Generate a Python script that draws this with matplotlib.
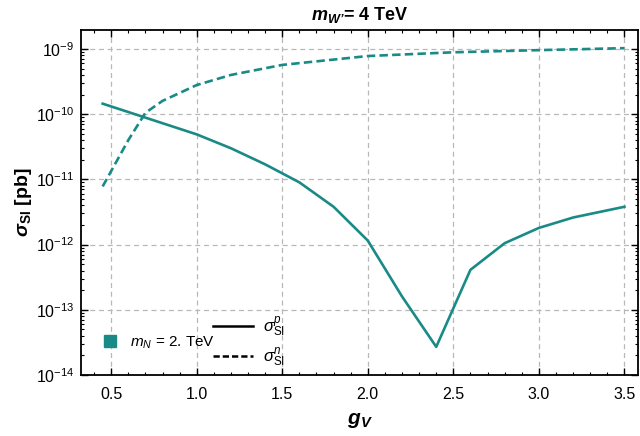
import matplotlib
matplotlib.use("Agg")
import matplotlib.pyplot as plt
from matplotlib.lines import Line2D
from matplotlib.ticker import MultipleLocator, NullFormatter, LogFormatterSciNotation

plt.rcParams['font.family'] = ['Liberation Sans', 'DejaVu Sans']
plt.rcParams['mathtext.fontset'] = 'custom'
plt.rcParams['mathtext.rm'] = 'Liberation Sans'
plt.rcParams['mathtext.it'] = 'Liberation Sans:italic'
plt.rcParams['mathtext.bf'] = 'Liberation Sans:bold'
plt.rcParams['mathtext.bfit'] = 'Liberation Sans:bold:italic'

# proton (solid)
gv_p = [0.45, 1.0, 1.2, 1.4, 1.6, 1.8, 2.0, 2.2, 2.4, 2.6, 2.8, 3.0, 3.2, 3.5]
sig_p = [1.45e-10, 4.9e-11, 3.0e-11, 1.7e-11, 9.0e-12, 3.8e-12, 1.15e-12,
         1.6e-13, 2.7e-14, 4.1e-13, 1.05e-12, 1.8e-12, 2.6e-12, 3.8e-12]
# neutron (dashed)
gv_n = [0.45, 0.6, 0.7, 0.8, 1.0, 1.2, 1.5, 2.0, 2.5, 3.0, 3.5]
sig_n = [7.8e-12, 4.0e-11, 1.05e-10, 1.6e-10, 2.8e-10, 4.0e-10, 5.7e-10,
         7.8e-10, 8.9e-10, 9.6e-10, 1.03e-9]

y_exponents = [-14, -13, -12, -11, -10, -9]
x_ticks = [0.5, 1.0, 1.5, 2.0, 2.5, 3.0, 3.5]

teal = '#1a8a86'

fig = plt.figure(figsize=(6.4, 4.36), dpi=100)
ax = fig.add_axes([0.127, 0.14, 0.870, 0.791])

ax.plot(gv_p, sig_p, color=teal, lw=1.9, ls='-')
ax.plot(gv_n, sig_n, color=teal, lw=1.9, ls=(0, (3.2, 1.6)))

ax.set_yscale('log')
ymin, ymax = 1e-14, 10**-8.71
ax.set_xlim(0.325, 3.58)
ax.set_ylim(ymin, ymax)

ax.set_xticks(x_ticks)
ax.set_xticklabels([f"{v:.1f}" for v in x_ticks])
ax.xaxis.set_minor_locator(MultipleLocator(0.1))

major_y = [10.0 ** e for e in y_exponents]
minor_y = [m * 10.0 ** e for e in y_exponents for m in range(2, 10)
           if m * 10.0 ** e < ymax]
ax.set_yticks(major_y)
ax.set_yticklabels([f"$10^{{{e}}}$" for e in y_exponents])
ax.set_yticks(minor_y, minor=True)
ax.yaxis.set_minor_formatter(NullFormatter())

ax.tick_params(which='both', direction='in', top=True, right=True, labelsize=11.5)
ax.tick_params(axis='x', which='major', pad=9)
ax.tick_params(axis='y', which='major', pad=5)
ax.tick_params(which='major', length=5, width=1)
ax.tick_params(which='minor', length=2.5, width=0.8)

for s in ax.spines.values():
    s.set_linewidth(1.3)

ax.grid(True, which='major', color='#b8b8b8', ls=(0, (4, 3)), lw=0.9)

ax.set_title("$\\mathbfit{m}_{\\mathbfit{W\u2019}}$= 4 TeV", fontsize=13,
             fontweight='bold', pad=7)
ax.set_xlabel(r"$\mathbfit{g_V}$", fontsize=15, labelpad=6)
ax.set_ylabel(r"$\mathbfit{\sigma}_{\mathbf{SI}}$ [pb]", fontsize=14,
              fontweight='bold', labelpad=1)

# legends
h1 = [Line2D([], [], marker='s', color=teal, ls='none', markersize=8)]
leg1 = ax.legend(h1, [r"$\mathit{m_N}$ = 2. TeV"], loc='lower left',
                 bbox_to_anchor=(0.0, 0.03), frameon=False, fontsize=11,
                 handletextpad=0.3)
ax.add_artist(leg1)
h2 = [Line2D([], [], color='black', lw=1.8, ls='-'),
      Line2D([], [], color='black', lw=1.8, ls=(0, (2.5, 1.2)))]
ax.legend(h2, [r"$\sigma^{p}_{\mathrm{SI}}$", r"$\sigma^{n}_{\mathrm{SI}}$"],
          loc='lower left', bbox_to_anchor=(0.21, -0.025), frameon=False,
          fontsize=12, handlelength=2.4, handletextpad=0.6, labelspacing=0.4)

fig.savefig('out.png', dpi=100)
